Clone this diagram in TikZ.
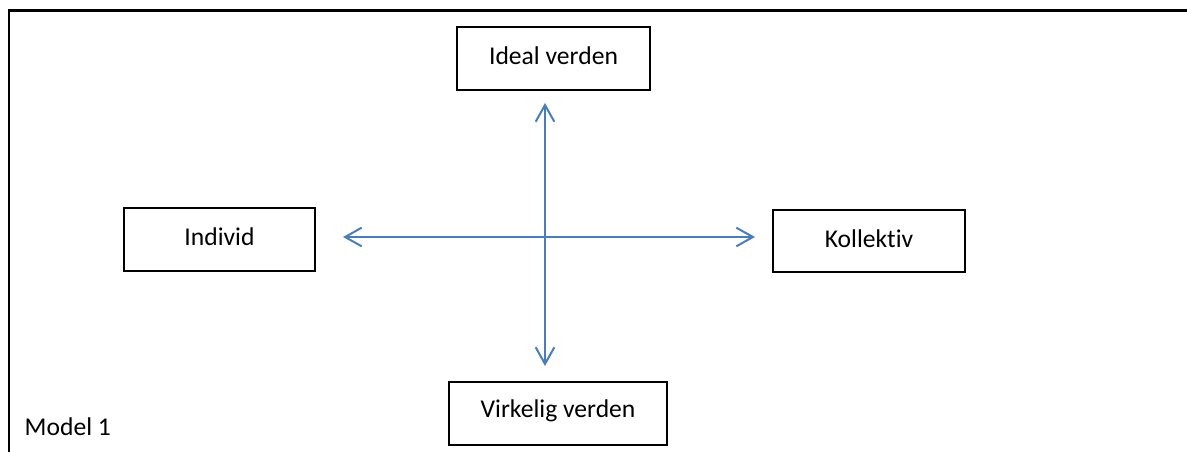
\documentclass[tikz,border=0pt]{standalone}
\usepackage{fontspec}
\setmainfont{Carlito}[Ligatures=NoCommon]
\usetikzlibrary{arrows.meta}
\definecolor{arrowblue}{HTML}{4A7EBB}
\tikzset{
  box/.style={draw=black, line width=1.1pt, rectangle, inner sep=0pt},
  lbl/.style={font=\fontsize{19.2}{23}\selectfont, text=black},
  axis/.style={draw=arrowblue, line width=1.5pt,
    {Straight Barb[length=12.5pt,width=14pt,line width=1.5pt]}-{Straight Barb[length=12.5pt,width=14pt,line width=1.5pt]}},
  frameline/.style={draw=black, line width=1.6pt}
}
\begin{document}
\begin{tikzpicture}[x=0.75pt,y=-0.75pt]
\useasboundingbox (0,0) rectangle (1187,452);
% outer frame (top and left edges)
\coordinate (fbl) at (9,452);
\coordinate (ftl) at (9,10.5);
\coordinate (ftr) at (1187,10.5);
\draw[frameline] (fbl) -- (ftl) -- (ftr);
% boxes
\node[box, minimum width=193*0.75pt, minimum height=63*0.75pt] (ideal) at (553.5,58.5) {};
\node[lbl] (idealt) at (553.5,56) {Ideal verden};
\node[box, minimum width=218*0.75pt, minimum height=63*0.75pt] (virk) at (558,413.5) {};
\node[lbl] (virkt) at (558,411) {Virkelig verden};
\node[box, minimum width=191*0.75pt, minimum height=63*0.75pt] (indiv) at (219.5,239.5) {};
\node[lbl] (indivt) at (219.5,237) {Individ};
\node[box, minimum width=192*0.75pt, minimum height=62*0.75pt] (koll) at (869,241) {};
\node[lbl] (kollt) at (869,239) {Kollektiv};
% model label
\node[lbl, anchor=west] (model) at (20,427) {Model 1};
% axes
\coordinate (atop) at (545,103);
\coordinate (abot) at (545,366);
\coordinate (aleft) at (343,237);
\coordinate (aright) at (755,237);
\draw[axis] (atop) -- (abot);
\draw[axis] (aleft) -- (aright);
\end{tikzpicture}
\end{document}
